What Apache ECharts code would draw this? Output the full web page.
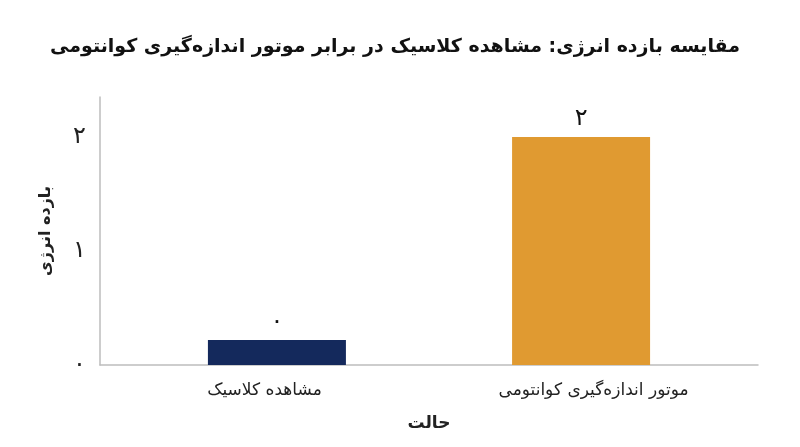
<!DOCTYPE html>
<html><head><meta charset="utf-8">
<script src="https://cdn.jsdelivr.net/npm/echarts@6/dist/echarts.min.js"></script>
<style>html,body{margin:0;padding:0;background:#fff}#c{width:800px;height:447px}</style>
</head><body><div id="c"></div>
<script>
const title = 'مقایسه بازده انرژی: مشاهده کلاسیک در برابر موتور اندازه‌گیری کوانتومی';
const categories = ['مشاهده کلاسیک', 'موتور اندازه‌گیری کوانتومی'];
const values = [0.22, 2.0];
const barColors = ['#14295c', '#e09a31'];
const yTicks = [0, 1, 2];
const xName = 'حالت';
const yName = 'بازده انرژی';

const fa = n => String(n).replace(/\d/g, d => '۰۱۲۳۴۵۶۷۸۹'[d]);
const font = '"DejaVu Sans", "Noto Sans", sans-serif';

const chart = echarts.init(document.getElementById('c'));
chart.setOption({
  backgroundColor: '#fff',
  title: { text: title, left: 390, top: 33, textAlign: 'center',
    textStyle: { fontFamily: font, fontSize: 19, fontWeight: 'bold', color: '#111' } },
  grid: { left: 100, right: 42, top: 97, bottom: 82 },
  xAxis: {
    type: 'category', data: categories,
    name: xName, nameLocation: 'middle', nameGap: 50,
    nameTextStyle: { fontFamily: font, fontSize: 17, fontWeight: 'bold', color: '#222' },
    axisLine: { show: true, lineStyle: { color: '#bdbdbd', width: 1.5 } },
    axisTick: { show: false },
    axisLabel: { fontFamily: font, fontSize: 17, color: '#222', margin: 17 }
  },
  yAxis: {
    type: 'value', min: 0, max: 2.35, interval: 1,
    name: yName, nameLocation: 'middle', nameGap: 46, nameRotate: 90,
    nameTextStyle: { fontFamily: font, fontSize: 16, fontWeight: 'bold', color: '#222' },
    axisLine: { show: true, lineStyle: { color: '#bdbdbd', width: 1.5 } },
    axisTick: { show: false },
    splitLine: { show: false },
    axisLabel: { fontFamily: font, fontSize: 24, color: '#222', margin: 14,
      formatter: v => yTicks.includes(v) ? fa(v) : '' }
  },
  series: [
    { type: 'bar', data: ['-', values[1]], barWidth: 138, barGap: '-82%',
      itemStyle: { color: barColors[1] },
      label: { show: true, position: 'top', distance: 6, fontFamily: font, fontSize: 24, color: '#111',
        formatter: p => fa(Math.round(p.value)) } },
    { type: 'bar', data: [values[0], '-'], barWidth: 138,
      itemStyle: { color: barColors[0] },
      label: { show: true, position: 'top', distance: 6, fontFamily: font, fontSize: 24, color: '#111',
        formatter: p => fa(Math.round(p.value)) } }
  ]
});
</script></body></html>
